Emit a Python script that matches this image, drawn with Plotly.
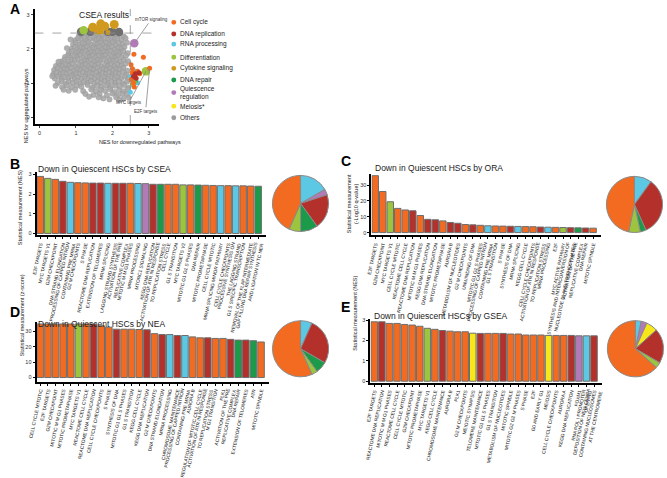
import plotly.graph_objects as go
from collections import Counter

W, H = 667, 478
FONT = "Liberation Sans"


def fx(p):
    return min(1.0, max(0.0, p / W))


def fy(p):
    return min(1.0, max(0.0, 1 - p / H))


COL = {"CC": "#F26B21", "DR": "#B3302B", "RP": "#5DC8E3", "DF": "#9CC43E",
       "CS": "#CF9A1E", "RE": "#1B9A4A", "QR": "#B27BB8", "ME": "#F6E61A", "OT": "#9B9B9B"}
LEGEND = [("CC", "Cell cycle"), ("DR", "DNA replication"), ("RP", "RNA processing"),
          ("DF", "Differentiation"), ("CS", "Cytokine signaling"), ("RE", "DNA repair"),
          ("QR", "Quiescence<br>regulation"), ("ME", "Meiosis*"), ("OT", "Others")]
PIE_ORDER = ["RP", "QR", "ME", "DR", "RE", "DF", "CC"]

# ---------------- Panel A data (NES down, NES up) ----------------
others = [
    (1.08, 2.37), (1.17, 2.42), (1.29, 2.39), (1.36, 2.44), (1.52, 2.38), (1.58, 2.43), (1.66, 2.36),
    (1.74, 2.41), (1.83, 2.44), (1.95, 2.37), (2.02, 2.42), (2.12, 2.38), (2.22, 2.43), (2.31, 2.36),
    (0.98, 2.25), (1.06, 2.31), (1.15, 2.27), (1.24, 2.32), (1.31, 2.24), (1.4, 2.29), (1.49, 2.33),
    (1.55, 2.26), (1.63, 2.3), (1.71, 2.24), (1.8, 2.31), (1.88, 2.27), (1.97, 2.32), (2.06, 2.25),
    (2.14, 2.3), (2.25, 2.26), (2.36, 2.31),
    (0.92, 2.13), (1.0, 2.18), (1.1, 2.12), (1.18, 2.17), (1.27, 2.14), (1.35, 2.19), (1.43, 2.11),
    (1.52, 2.16), (1.6, 2.13), (1.69, 2.18), (1.77, 2.12), (1.85, 2.17), (1.93, 2.14), (2.01, 2.19),
    (2.1, 2.11), (2.19, 2.16), (2.28, 2.13), (2.4, 2.18),
    (0.88, 2.0), (0.97, 2.05), (1.05, 1.99), (1.13, 2.04), (1.22, 2.01), (1.3, 2.06), (1.38, 1.98),
    (1.47, 2.03), (1.56, 2.0), (1.64, 2.05), (1.72, 1.99), (1.81, 2.04), (1.9, 2.01), (1.98, 2.06),
    (2.07, 1.98), (2.16, 2.03), (2.25, 2.0), (2.33, 2.05),
    (0.8, 1.88), (0.9, 1.93), (1.0, 1.87), (1.09, 1.92), (1.17, 1.89), (1.26, 1.94), (1.34, 1.86),
    (1.42, 1.91), (1.51, 1.88), (1.6, 1.93), (1.68, 1.87), (1.77, 1.92), (1.86, 1.89), (1.94, 1.94),
    (2.03, 1.86), (2.12, 1.91), (2.21, 1.88), (2.3, 1.93), (2.42, 1.87),
    (0.7, 1.76), (0.79, 1.81), (0.86, 1.75), (0.95, 1.8), (1.04, 1.77), (1.12, 1.82), (1.21, 1.74),
    (1.3, 1.79), (1.38, 1.76), (1.47, 1.81), (1.55, 1.75), (1.64, 1.8), (1.73, 1.77), (1.81, 1.82),
    (1.9, 1.74), (1.99, 1.79), (2.08, 1.76), (2.17, 1.81), (2.26, 1.75), (2.37, 1.8),
    (0.6, 1.63), (0.69, 1.68), (0.78, 1.62), (0.88, 1.67), (0.97, 1.64), (1.06, 1.69), (1.15, 1.61),
    (1.24, 1.66), (1.32, 1.63), (1.41, 1.68), (1.5, 1.62), (1.59, 1.67), (1.67, 1.64), (1.76, 1.69),
    (1.85, 1.61), (1.93, 1.66), (2.02, 1.63), (2.11, 1.68), (2.2, 1.62), (2.31, 1.67), (2.43, 1.64),
    (0.45, 1.5), (0.55, 1.55), (0.64, 1.49), (0.73, 1.54), (0.82, 1.51), (0.91, 1.56), (1.0, 1.48),
    (1.09, 1.53), (1.18, 1.5), (1.27, 1.55), (1.36, 1.49), (1.44, 1.54), (1.53, 1.51), (1.62, 1.56),
    (1.71, 1.48), (1.8, 1.53), (1.88, 1.5), (1.97, 1.55), (2.06, 1.49), (2.15, 1.54), (2.25, 1.51),
    (2.36, 1.56),
    (0.4, 1.38), (0.5, 1.43), (0.59, 1.37), (0.68, 1.42), (0.77, 1.39), (0.86, 1.44), (0.95, 1.36),
    (1.04, 1.41), (1.13, 1.38), (1.22, 1.43), (1.31, 1.37), (1.4, 1.42), (1.49, 1.39), (1.58, 1.44),
    (1.66, 1.36), (1.75, 1.41), (1.84, 1.38), (1.93, 1.43), (2.02, 1.37), (2.11, 1.42), (2.2, 1.39),
    (2.3, 1.44), (2.41, 1.36),
    (0.38, 1.26), (0.47, 1.31), (0.56, 1.25), (0.65, 1.3), (0.74, 1.27), (0.83, 1.32), (0.92, 1.24),
    (1.01, 1.29), (1.1, 1.26), (1.19, 1.31), (1.28, 1.25), (1.37, 1.3), (1.46, 1.27), (1.55, 1.32),
    (1.64, 1.24), (1.73, 1.29), (1.82, 1.26), (1.91, 1.31), (2.0, 1.25), (2.09, 1.3), (2.18, 1.27),
    (2.28, 1.32), (2.38, 1.24),
    (0.42, 1.13), (0.52, 1.18), (0.61, 1.12), (0.7, 1.17), (0.79, 1.14), (0.88, 1.19), (0.97, 1.11),
    (1.06, 1.16), (1.16, 1.13), (1.25, 1.18), (1.34, 1.12), (1.43, 1.17), (1.52, 1.14), (1.61, 1.19),
    (1.7, 1.11), (1.79, 1.16), (1.88, 1.13), (1.97, 1.18), (2.06, 1.12), (2.15, 1.17), (2.24, 1.14),
    (2.34, 1.19), (2.44, 1.11),
    (0.5, 1.0), (0.61, 1.05), (0.72, 0.99), (0.81, 1.04), (0.91, 1.01), (1.02, 1.06), (1.12, 0.98),
    (1.21, 1.03), (1.31, 1.0), (1.41, 1.05), (1.5, 0.99), (1.6, 1.04), (1.69, 1.01), (1.79, 1.06),
    (1.88, 0.98), (1.98, 1.03), (2.08, 1.0), (2.18, 1.05), (2.29, 0.99), (2.4, 1.04),
    (0.62, 0.88), (0.75, 0.93), (0.88, 0.87), (1.02, 0.92), (1.15, 0.89), (1.32, 0.94), (1.45, 0.86),
    (1.58, 0.91), (1.7, 0.88), (1.83, 0.93), (1.95, 0.87), (2.08, 0.92), (2.2, 0.89), (2.32, 0.94),
    (2.44, 0.86),
    (0.8, 0.77), (0.98, 0.8), (1.2, 0.76), (1.42, 0.81), (1.55, 0.75), (1.68, 0.8), (1.8, 0.77),
    (1.93, 0.82), (2.05, 0.74), (2.18, 0.79), (2.3, 0.76), (2.42, 0.81),
    (1.48, 0.65), (1.65, 0.68), (1.85, 0.64), (2.0, 0.69), (2.15, 0.63), (2.28, 0.68), (2.4, 0.66),
    (1.75, 0.55), (2.1, 0.58), (2.3, 0.53), (2.45, 0.57),
    (0.52, 1.62), (0.35, 1.2), (0.44, 0.92), (0.66, 0.8), (0.75, 2.02), (0.85, 2.27),
    (1.26, 0.68), (1.36, 0.6), (1.62, 0.58), (1.92, 0.52), (2.2, 0.5),
]
others_big_x = [1.14, 1.39, 1.88, 2.0, 2.18]
others_big_y = [2.5, 2.5, 2.5, 2.5, 2.49]
cc_x = [2.59, 2.85, 3.02, 2.51, 2.69, 2.55, 2.62, 2.52, 2.58, 2.66, 2.75, 2.6, 2.54]
cc_y = [1.84, 1.75, 1.43, 1.53, 1.34, 1.42, 1.22, 1.1, 1.0, 1.3, 1.27, 0.88, 1.3]
dr_x = [2.63, 2.73, 2.65, 2.58]
dr_y = [1.27, 1.3, 1.14, 1.2]
rp_x = [2.49, 2.69, 2.55, 2.6, 2.5]
rp_y = [0.73, 1.01, 0.95, 1.35, 1.2]
df_x = [2.55, 2.6]
df_y = [0.97, 1.02]
df_big_x = [2.92, 1.21]
df_big_y = [1.34, 2.54]
cs_x = [1.7, 1.88]
cs_y = [2.5, 2.48]
cs_big_x = [1.46, 1.68, 1.79, 2.05, 1.6]
cs_big_y = [2.63, 2.73, 2.66, 2.71, 2.55]
re_x = [2.57, 2.62]
re_y = [1.15, 1.05]
qr_big_x = [2.6]
qr_big_y = [2.16]
a_xticks = [0, 1, 2, 3]
a_yticks = [0, 1, 2, 3]

# ---------------- Panel B (CSEA, NES) ----------------
b_vals = [2.9, 2.8, 2.75, 2.65, 2.6, 2.58, 2.57, 2.56, 2.56, 2.55, 2.55, 2.55, 2.55, 2.54, 2.53,
          2.5, 2.5, 2.5, 2.5, 2.47, 2.47, 2.46, 2.45, 2.44, 2.43, 2.43, 2.42, 2.42, 2.41, 2.4]
b_cats = ["CC", "DF", "CC", "DR", "RP", "CC", "CC", "DR", "DR", "RP", "DR", "DR", "CC", "RP", "QR",
          "DR", "RE", "CC", "CC", "DF", "CC", "RE", "CC", "CC", "RP", "CC", "RP", "CC", "CC", "RE"]
b_labels = ["E2F TARGETS", "MYC TARGETS V1", "G2M CHECKPOINT", "DNA STRAND ELONGATION",
            "PROCESSING OF CAPPED INTRON<br>CONTAINING PRE MRNA", "G2 M CHECKPOINTS", "S PHASE",
            "REACTOME DNA REPLICATION", "EXTENSION OF TELOMERES", "MRNA SPLICING",
            "LAGGING STRAND SYNTHESIS", "ACTIVATION OF THE PRE<br>REPLICATIVE COMPLEX",
            "MITOTIC M M G1 PHASES", "MRNA PROCESSING", "MTORC1 SIGNALING", "KEGG DNA REPLICATION",
            "ACTIVATION OF ATR IN RESPONSE<br>TO REPLICATION STRESS", "CELL CYCLE", "G1 S TRANSITION",
            "MYC TARGETS V2", "MITOTIC G1 G1 S PHASES", "DNA REPAIR", "MITOTIC PROMETAPHASE",
            "CELL CYCLE MITOTIC", "MRNA SPLICING MINOR PATHWAY", "CELL CYCLE CHECKPOINTS",
            "PROCESSIVE SYNTHESIS ON<br>THE LAGGING STRAND", "G1 S SPECIFIC TRANSCRIPTION",
            "REMOVAL OF THE FLAP INTERMEDIATE", "GAP FILLING DNA REPAIR SYNTHESIS<br>AND LIGATION IN TC NER"]

# ---------------- Panel C (ORA, -log10 q) ----------------
c_vals = [36, 26, 19.5, 15.3, 14.3, 13.8, 10.8, 8.4, 8.1, 7.4, 6.4, 5.9, 5.1, 4.9, 4.6, 4.3, 4.2,
          4.1, 4.0, 3.9, 3.8, 3.7, 3.5, 3.4, 3.3, 3.2, 3.1, 3.0, 2.9, 2.8]
c_cats = ["CC", "CC", "DF", "CC", "CC", "DR", "CC", "DR", "DR", "CC", "DR", "DR", "CC", "DR", "CC",
          "RP", "CC", "CC", "DR", "RP", "CC", "CC", "DR", "RP", "CC", "DF", "DR", "RE", "DR", "CC"]
c_labels = ["E2F TARGETS", "G2M CHECKPOINT", "MYC TARGETS V1", "CELL CYCLE MITOTIC",
            "REACTOME CELL CYCLE", "REACTOME DNA REPLICATION", "MITOTIC M M G1 PHASES",
            "KEGG DNA REPLICATION", "DNA STRAND ELONGATION", "MITOTIC PROMETAPHASE", "AURORA B",
            "METABOLISM OF NUCLEOTIDES", "G2 M CHECKPOINTS", "UNWINDING OF DNA",
            "MITOTIC G1 G1 S PHASES", "PROCESSING OF CAPPED INTRON<br>CONTAINING PRE MRNA",
            "G1 S TRANSITION", "S PHASE", "SYNTHESIS OF DNA", "MRNA SPLICING", "KEGG CELL CYCLE",
            "CELL CYCLE CHECKPOINTS", "ACTIVATION OF ATR IN RESPONSE<br>TO REPLICATION STRESS",
            "MRNA PROCESSING", "E2F", "MYC ACTIVE PATHWAY",
            "SYNTHESIS AND INTERCONVERSION OF<br>NUCLEOTIDE DI AND TRIPHOSPHATES",
            "ACTIVATION OF THE PRE<br>REPLICATIVE COMPLEX", "DNA REPAIR", "MITOTIC SPINDLE"]

# ---------------- Panel D (NEA, z-score) ----------------
d_vals = [34.8, 34.8, 34.8, 34.8, 34.8, 34.8, 34.8, 34.8, 33.6, 32.7, 31.4, 31.4, 31.4, 31.2, 31.0,
          28.5, 27.9, 27.9, 27.3, 27.3, 26.4, 25.8, 25.8, 25.4, 25.4, 24.8, 24.3, 24.3, 23.9, 23.1]
d_cats = ["CC", "CC", "CC", "CC", "CC", "DF", "CC", "DR", "CC", "CC", "DR", "CC", "CC", "CC", "DR",
          "CC", "DR", "RP", "DR", "RP", "CC", "CC", "DR", "CC", "CC", "DR", "RE", "DR", "RE", "CC"]
d_labels = ["CELL CYCLE MITOTIC", "E2F TARGETS", "G2M CHECKPOINT", "MITOTIC M M G1 PHASES",
            "MITOTIC PROMETAPHASE", "MYC TARGETS V1", "REACTOME CELL CYCLE",
            "REACTOME DNA REPLICATION", "CELL CYCLE CHECKPOINTS", "S PHASE", "SYNTHESIS OF DNA",
            "MITOTIC G1 G1 S PHASES", "G1 S TRANSITION", "KEGG CELL CYCLE", "KEGG DNA REPLICATION",
            "G2 M CHECKPOINTS", "DNA STRAND ELONGATION", "MRNA PROCESSING", "CHROMOSOME MAINTENANCE",
            "PROCESSING OF CAPPED INTRON<br>CONTAINING PRE MRNA", "AURORA B",
            "REGULATION OF MITOTIC CELL CYCLE", "ACTIVATION OF ATR IN RESPONSE<br>TO REPLICATION STRESS",
            "M G1 TRANSITION", "PLK1", "ACTIVATION OF THE PRE<br>REPLICATIVE COMPLEX", "DNA REPAIR",
            "EXTENSION OF TELOMERES", "ATR", "MITOTIC SPINDLE"]

# ---------------- Panel E (GSEA, NES) ----------------
e_vals = [2.92, 2.92, 2.84, 2.84, 2.79, 2.76, 2.70, 2.60, 2.55, 2.49, 2.46, 2.43, 2.43, 2.36, 2.35,
          2.35, 2.35, 2.35, 2.32, 2.32, 2.27, 2.27, 2.27, 2.25, 2.25, 2.25, 2.25, 2.23, 2.23, 2.23]
e_cats = ["CC", "DR", "CC", "CC", "CC", "CC", "CC", "DF", "CC", "DR", "CC", "CC", "CC", "ME", "DR",
          "CC", "CC", "DR", "CC", "CC", "CC", "CC", "CC", "ME", "CC", "CC", "DR", "QR", "RP", "DR"]
e_labels = ["E2F TARGETS", "REACTOME DNA REPLICATION", "MITOTIC M M G1 PHASES",
            "REACTOME CELL CYCLE", "CELL CYCLE MITOTIC", "G2M CHECKPOINT", "MITOTIC PROMETAPHASE",
            "MYC TARGETS V1", "KEGG CELL CYCLE", "CHROMOSOME MAINTENANCE", "AURORA B", "PLK1",
            "G2 M CHECKPOINTS", "MEIOTIC SYNAPSIS", "TELOMERE MAINTENANCE", "MITOTIC G1 G1 S PHASES",
            "G1 S TRANSITION", "METABOLISM OF NUCLEOTIDES", "MITOTIC SPINDLE",
            "MITOTIC G2 G2 M PHASES", "S PHASE", "E2F", "G0 AND EARLY G1", "MEIOSIS",
            "CELL CYCLE CHECKPOINTS", "AURORA A", "KEGG DNA REPLICATION", "FOXM1",
            "RNA POL I PROMOTER<br>OPENING",
            "DEPOSITION OF NEW CENPA<br>CONTAINING NUCLEOSOMES<br>AT THE CENTROMERE"]

fig = go.Figure()

# ---------------- Panel A traces ----------------
fig.add_trace(go.Scatter(x=[p[0] for p in others], y=[p[1] for p in others], mode="markers",
                         marker=dict(size=5.4, color="#a8a8a8", opacity=0.9,
                                     line=dict(width=0.4, color="#909090")),
                         xaxis="x", yaxis="y", showlegend=False, hoverinfo="skip"))


def add_pts(xs, ys, key, size, color=None):
    fig.add_trace(go.Scatter(x=xs, y=ys, mode="markers",
                             marker=dict(size=size, color=color or COL[key], line=dict(width=0)),
                             xaxis="x", yaxis="y", showlegend=False))


add_pts(others_big_x, others_big_y, "OT", 8.5, "#6f6f6f")
add_pts(cs_big_x, cs_big_y, "CS", 9)
add_pts(cs_x, cs_y, "CS", 5)
add_pts(df_big_x, df_big_y, "DF", 8.5)
add_pts(qr_big_x, qr_big_y, "QR", 8.5)
add_pts(rp_x, rp_y, "RP", 5)
add_pts(re_x, re_y, "RE", 5)
add_pts(df_x, df_y, "DF", 5)
add_pts(cc_x, cc_y, "CC", 5)
add_pts(dr_x, dr_y, "DR", 5)

shapes = []
annotations = []
shapes.append(dict(type="line", xref="x", yref="y", x0=-0.14, x1=3.27, y0=2.46, y1=2.46,
                   line=dict(color="#8c8c8c", width=0.8, dash="dash")))
shapes.append(dict(type="line", xref="x", yref="y", x0=2.49, x1=2.49, y0=-0.2, y1=3.17,
                   line=dict(color="#8c8c8c", width=0.8, dash="dash")))

for txt, px, py, ax, ay in [("mTOR signaling", 2.6, 2.16, 17, -24),
                            ("MYC targets", 2.92, 1.34, -17, 31),
                            ("E2F targets", 3.02, 1.43, -4, 43)]:
    annotations.append(dict(text=txt, x=px, y=py, xref="x", yref="y", ax=ax, ay=ay,
                            showarrow=True, arrowhead=0, arrowwidth=0.8, arrowcolor="#888",
                            font=dict(size=4.5, family=FONT, color="#333")))

annotations.append(dict(text="CSEA results", x=fx(70), y=fy(13), xref="paper", yref="paper",
                        xanchor="left", yanchor="middle", showarrow=False,
                        font=dict(size=8.5, family=FONT, color="#222")))
annotations.append(dict(text="NES for downregulated pathways", x=fx(90), y=fy(139),
                        xref="paper", yref="paper", showarrow=False,
                        font=dict(size=5.5, family=FONT, color="#222")))
annotations.append(dict(text="NES for upregulated pathways", x=fx(14), y=fy(66),
                        xref="paper", yref="paper", showarrow=False, textangle=-90,
                        font=dict(size=5.5, family=FONT, color="#222")))

# legend (manual)
leg_y = [21, 33, 43.5, 57, 68.5, 80.5, 93.5, 107.5, 119.5]
for (key, name), ly in zip(LEGEND, leg_y):
    shapes.append(dict(type="circle", xref="paper", yref="paper",
                       x0=fx(165.8), x1=fx(170.8), y0=fy(ly + 2.5), y1=fy(ly - 2.5),
                       fillcolor=COL[key], line=dict(width=0)))
    annotations.append(dict(text=name, x=fx(172.5), y=fy(ly), xref="paper", yref="paper",
                            xanchor="left", yanchor="middle", showarrow=False, align="left",
                            font=dict(size=6.5, family=FONT, color="#222")))

# panel letters
for letter, lx, ly in [("A", 0, 7), ("B", 0, 167), ("C", 336, 164), ("D", 0, 320), ("E", 336, 315)]:
    annotations.append(dict(text="<b>%s</b>" % letter, x=fx(lx), y=fy(ly), xref="paper",
                            yref="paper", xanchor="left", yanchor="middle", showarrow=False,
                            font=dict(size=14, family=FONT, color="black")))

# ---------------- bar panels ----------------
panels = [
    ("2", b_vals, b_cats, b_labels, (29, 262), (176, 241), [-0.1, 3.1], [0, 1, 2, 3],
     "Down in Quiescent HSCs by CSEA", (28, 172), "Statistical measurement (NES)", 7, 212),
    ("3", c_vals, c_cats, c_labels, (369, 602), (178, 241), [-1.8, 36.8], [0, 10, 20, 30],
     "Down in Quiescent HSCs by ORA", (371, 171), "Statistical measurement<br>(-Log10 q-value)", 350, 208),
    ("4", d_vals, d_cats, d_labels, (29, 265), (330, 392), [-2.7, 36.3], [0, 10, 20, 30],
     "Down in Quiescent HSCs by NEA", (28, 332), "Statistical measurement (z-score)", 10, 368),
    ("5", e_vals, e_cats, e_labels, (368, 603), (327, 393), [-0.07, 3.07], [0, 1, 2, 3],
     "Down in Quiescent HSCs by GSEA", (370, 324), "Statistical measurement (NES)", 352, 362),
]
pie_geom = [(297, 208, 29), (636, 209, 29), (297, 358, 29), (637, 358, 29)]

layout_axes = {}
for (aid, vals, cats, labels, xd, yd, yr, yt, title, tpos, ytitle, ytx, yty), pg in zip(panels, pie_geom):
    n = len(vals)
    fig.add_trace(go.Bar(x=list(range(n)), y=vals, marker=dict(color=[COL[c] for c in cats],
                                                              line=dict(color="#6e6e6e", width=1)),
                         xaxis="x" + aid, yaxis="y" + aid, showlegend=False, width=0.86))
    layout_axes["xaxis" + aid] = dict(
        domain=[fx(xd[0]), fx(xd[1])], range=[-0.5, n + 0.05], anchor="y" + aid,
        tickmode="array", tickvals=list(range(n)), ticktext=labels, tickangle=-78,
        tickfont=dict(size=4.8, family=FONT, color="#111"), ticks="outside", ticklen=2,
        tickwidth=0.7, tickcolor="black", showline=True, linewidth=2, linecolor="black",
        showgrid=False, zeroline=False)
    layout_axes["yaxis" + aid] = dict(
        domain=[fy(yd[1]), fy(yd[0])], range=yr, anchor="x" + aid, tickmode="array",
        tickvals=yt, tickfont=dict(size=5.5, family=FONT, color="#333"), ticks="outside",
        ticklen=2, tickwidth=0.7, tickcolor="black", showline=True, linewidth=2,
        linecolor="black", showgrid=False, zeroline=False)
    annotations.append(dict(text=title, x=fx(tpos[0]), y=fy(tpos[1]), xref="paper", yref="paper",
                            xanchor="left", yanchor="middle", showarrow=False,
                            font=dict(size=8.5, family=FONT, color="#222")))
    annotations.append(dict(text=ytitle, x=fx(ytx), y=fy(yty), xref="paper", yref="paper",
                            textangle=-90, showarrow=False,
                            font=dict(size=5.5, family=FONT, color="#222")))
    cnt = Counter(cats)
    keys = [k for k in PIE_ORDER if cnt[k] > 0]
    cx, cy, r = pg
    fig.add_trace(go.Pie(values=[cnt[k] for k in keys], labels=keys, sort=False,
                         direction="clockwise", rotation=0, textinfo="none", hoverinfo="skip",
                         marker=dict(colors=[COL[k] for k in keys], line=dict(color="#8a8a8a", width=1)),
                         domain=dict(x=[fx(cx - r), fx(cx + r)], y=[fy(cy + r), fy(cy - r)]),
                         showlegend=False))

fig.update_layout(
    width=W, height=H, margin=dict(l=0, r=0, t=0, b=0),
    paper_bgcolor="white", plot_bgcolor="white", showlegend=False,
    font=dict(family=FONT),
    xaxis=dict(domain=[fx(27), fx(153)], range=[-0.135, 3.27], anchor="y", tickmode="array",
               tickvals=a_xticks, tickfont=dict(size=5.5, family=FONT, color="#333"),
               ticks="outside", ticklen=2, tickwidth=0.7, showline=True, linewidth=2,
               linecolor="black", showgrid=False, zeroline=False),
    yaxis=dict(domain=[fy(126), fy(7)], range=[-0.2, 3.17], anchor="x", tickmode="array",
               tickvals=a_yticks, tickfont=dict(size=5.5, family=FONT, color="#333"),
               ticks="outside", ticklen=2, tickwidth=0.7, showline=True, linewidth=2,
               linecolor="black", showgrid=False, zeroline=False),
    shapes=shapes, annotations=annotations, **layout_axes)

fig.write_html("out.html", config={"displayModeBar": False},
               post_script="document.body.style.margin='0px';document.body.style.overflow='hidden';")
